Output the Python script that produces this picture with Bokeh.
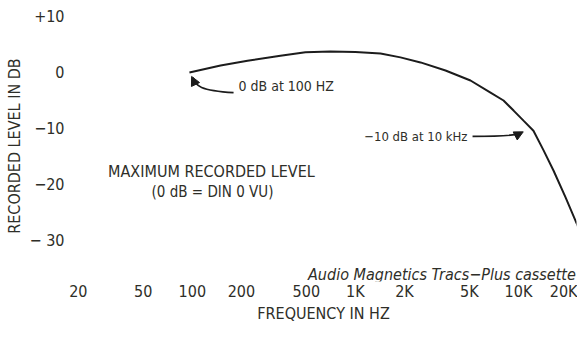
from bokeh.plotting import figure
from bokeh.models import Range1d, FixedTicker, Label, Arrow, NormalHead
from bokeh.embed import file_html
from bokeh.resources import INLINE

# ---- data ----
FREQ_HZ = [96, 149, 218, 347, 494, 703, 1000, 1426, 1890, 2508, 3570, 5080,
           6740, 8100, 9340, 10740, 12360, 14260, 16400, 19450, 23340]
LEVEL_DB = [0.0, 1.25, 2.1, 3.0, 3.6, 3.75, 3.65, 3.4, 2.7, 1.8, 0.35, -1.43,
            -3.6, -5.0, -6.8, -8.6, -10.4, -13.9, -17.5, -22.3, -27.7]

X_TICKS = [20, 50, 100, 200, 500, 1000, 2000, 5000, 10000, 20000]
X_TICK_LABELS = ["20", "50", "100", "200", "500", "1K", "2K", "5K", "10K", "20K"]
Y_TICKS = [10, 0, -10, -20, -30]
Y_TICK_LABELS = ["+10", "0", "\u221210", "\u221220", "\u2212 30"]

FONT = "'DejaVu Sans Condensed', 'DejaVu Sans', sans-serif"
TXT = "#2e2e28"
INK = "#1c1c1c"

p = figure(width=577, height=326, x_axis_type="log",
           x_range=Range1d(17.9, 22700), y_range=Range1d(-37.32, 11.07),
           output_backend="svg", toolbar_location=None,
           min_border_left=70, min_border_right=1, min_border_top=10,
           min_border_bottom=45)
p.outline_line_color = None
p.grid.visible = False
p.background_fill_color = "white"
p.border_fill_color = "white"

p.line(FREQ_HZ, LEVEL_DB, line_color=INK, line_width=2)

for ax in (p.xaxis[0], p.yaxis[0]):
    ax.axis_line_color = None
    ax.major_tick_line_color = None
    ax.minor_tick_line_color = None
    ax.major_tick_out = 0
    ax.major_tick_in = 0
    ax.minor_tick_out = 0
    ax.minor_tick_in = 0
    ax.major_label_text_font = FONT
    ax.major_label_text_font_size = "16px"
    ax.major_label_text_color = TXT
    ax.axis_label_text_font = FONT
    ax.axis_label_text_font_size = "16px"
    ax.axis_label_text_font_style = "normal"
    ax.axis_label_text_color = TXT

p.xaxis.ticker = FixedTicker(ticks=X_TICKS)
p.xaxis.major_label_overrides = {t: l for t, l in zip(X_TICKS, X_TICK_LABELS)}
p.xaxis.axis_label = "FREQUENCY IN HZ"
p.xaxis.major_label_standoff = 0
p.xaxis.axis_label_standoff = 0

p.yaxis.ticker = FixedTicker(ticks=Y_TICKS)
p.yaxis.major_label_overrides = {t: l for t, l in zip(Y_TICKS, Y_TICK_LABELS)}
p.yaxis.axis_label = "RECORDED LEVEL IN DB"
p.yaxis.major_label_standoff = 6
p.yaxis.axis_label_standoff = 3

# ---- annotations (positions in data units) ----
ANN_100 = dict(x=192, y=-2.5, text="0 dB at 100 HZ")
ANN_10K = dict(x=4870, y=-11.4, text="\u221210 dB at 10 kHz")
TITLE1 = dict(x=131, y=-17.7, text="MAXIMUM RECORDED LEVEL")
TITLE2 = dict(x=133, y=-21.3, text="(0 dB = DIN 0 VU)")
NOTE = dict(x=22500, y=-36.1, text="Audio Magnetics Tracs\u2212Plus cassette")

def lab(d, size, align, style="normal"):
    p.add_layout(Label(x=d["x"], y=d["y"], text=d["text"], text_font=FONT,
                       text_font_size=size, text_color=TXT, text_align=align,
                       text_baseline="middle", text_font_style=style))

lab(ANN_100, "14px", "left")
lab(ANN_10K, "13px", "right")
lab(TITLE1, "16px", "center")
lab(TITLE2, "15px", "center")
lab(NOTE, "16px", "right", "italic")

# curved arrows: bezier shaft + arrow head
p.bezier(x0=[179, 5230], y0=[-3.6, -11.4], x1=[101, 10400], y1=[-0.9, -10.8],
         cx0=[112, 8340], cy0=[-3.2, -11.4], cx1=[104, 9800], cy1=[-2.4, -11.2],
         line_color=INK, line_width=1.6)
p.add_layout(Arrow(x_start=104, y_start=-2.0, x_end=99, y_end=-0.7,
                   line_color=None,
                   end=NormalHead(size=9, fill_color=INK, line_color=INK)))
p.add_layout(Arrow(x_start=9900, y_start=-11.1, x_end=10700, y_end=-10.6,
                   line_color=None,
                   end=NormalHead(size=9, fill_color=INK, line_color=INK)))

open("out.html", "w").write(file_html(p, INLINE))
